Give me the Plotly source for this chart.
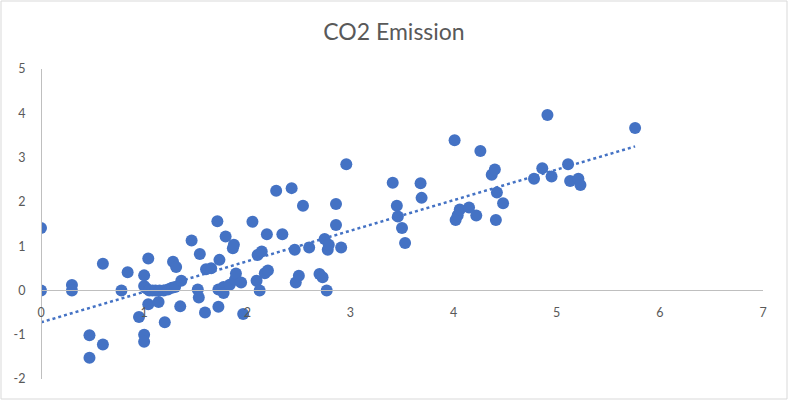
import numpy as np
import plotly.graph_objects as go

# ---- data ----
x_vals = [
    0.00, 0.00, 0.30, 0.30, 0.47, 0.47, 0.60, 0.60, 0.78, 0.84,
    0.95, 1.00, 1.00, 1.00, 1.00, 1.04, 1.04, 1.14, 1.20, 1.35,
    1.02, 1.05, 1.08, 1.11, 1.15, 1.19, 1.23, 1.27, 1.30, 1.36,
    1.28, 1.31, 1.46, 1.54, 1.52, 1.53, 1.59, 1.60, 1.65, 1.71,
    1.73, 1.72, 1.72, 1.77, 1.77, 1.79, 1.86, 1.87, 1.83, 1.88,
    1.89, 1.94, 1.96,
    2.05, 2.10, 2.14, 2.09, 2.12, 2.17, 2.20, 2.19, 2.28, 2.34,
    2.43, 2.46, 2.47, 2.50, 2.54, 2.60, 2.70, 2.73, 2.75, 2.77,
    2.78, 2.79, 2.86, 2.86, 2.91, 2.96,
    3.41, 3.45, 3.46, 3.50, 3.53, 3.68, 3.69,
    4.01, 4.02, 4.04, 4.06, 4.15, 4.22, 4.26, 4.37, 4.40, 4.41,
    4.42, 4.48, 4.78, 4.86, 4.91, 4.95, 5.11, 5.13, 5.21, 5.23,
    5.76,
]
y_vals = [
    1.41, 0.00, 0.12, 0.00, -1.01, -1.52, 0.60, -1.22, 0.00, 0.41,
    -0.60, -1.00, -1.16, 0.34, 0.10, 0.72, -0.31, -0.26, -0.72, -0.36,
    0.05, 0.00, 0.00, 0.00, 0.00, 0.00, 0.02, 0.06, 0.08, 0.22,
    0.65, 0.53, 1.13, 0.82, 0.02, -0.16, -0.50, 0.48, 0.50, 1.56,
    0.69, 0.02, -0.37, 0.08, -0.06, 1.22, 0.95, 1.03, 0.13, 0.24,
    0.38, 0.18, -0.53,
    1.55, 0.80, 0.88, 0.22, 0.00, 0.39, 0.45, 1.27, 2.25, 1.27,
    2.31, 0.92, 0.18, 0.33, 1.91, 0.97, 0.37, 0.30, 1.16, 0.00,
    0.92, 1.03, 1.95, 1.48, 0.97, 2.85,
    2.43, 1.91, 1.67, 1.41, 1.07, 2.42, 2.09,
    3.39, 1.59, 1.70, 1.83, 1.87, 1.69, 3.15, 2.61, 2.73, 1.59,
    2.21, 1.97, 2.52, 2.76, 3.96, 2.57, 2.85, 2.47, 2.52, 2.38,
    3.67,
]
x_ticks = [0, 1, 2, 3, 4, 5, 6, 7]
y_ticks = [-2, -1, 0, 1, 2, 3, 4, 5]
title_text = "CO2 Emission"

# linear trendline (least squares, as Excel does)
slope, intercept = np.polyfit(x_vals, y_vals, 1)
trend_x = [min(x_vals), max(x_vals)]
trend_y = [intercept + slope * v for v in trend_x]

BLUE = "#4472C4"
GREY_TXT = "#595959"
AXIS = "#BFBFBF"

fig = go.Figure()
fig.add_trace(go.Scatter(
    x=x_vals, y=y_vals, mode="markers",
    marker=dict(size=12, color=BLUE, line=dict(width=0)),
    showlegend=False, hoverinfo="skip",
))
fig.add_trace(go.Scatter(
    x=trend_x, y=trend_y, mode="lines",
    line=dict(color=BLUE, width=2.5, dash="3px,3px"),
    showlegend=False, hoverinfo="skip",
))

L, R, T, B = 41, 25, 69, 22
W, H = 788, 401
pw, ph = W - L - R, H - T - B

fig.update_layout(
    width=W, height=H,
    margin=dict(l=L, r=R, t=T, b=B, autoexpand=False),
    paper_bgcolor="white", plot_bgcolor="white",
    font=dict(family="Lato, Open Sans, sans-serif", color=GREY_TXT, size=12),
    title=dict(text=title_text, x=0.5, xref="container", xanchor="center",
               y=1 - 32 / H, yref="container", yanchor="middle",
               font=dict(size=23, color=GREY_TXT, family="Lato, Open Sans, sans-serif")),
    xaxis=dict(range=[0, 7], tickvals=x_ticks, ticktext=[str(v) for v in x_ticks],
               showgrid=False, zeroline=False, showline=True, linecolor=AXIS, linewidth=1,
               anchor="free", position=2 / 7,
               ticks="outside", ticklen=11, tickcolor="rgba(0,0,0,0)",
               tickfont=dict(size=12.5, color=GREY_TXT), automargin=False),
    yaxis=dict(range=[-2, 5], tickvals=y_ticks, ticktext=[str(v) for v in y_ticks],
               domain=[0, 1],
               showgrid=False, zeroline=False, showline=True, linecolor=AXIS, linewidth=1,
               anchor="free", position=0,
               ticks="outside", ticklen=13, tickcolor="rgba(0,0,0,0)",
               tickfont=dict(size=12.5, color=GREY_TXT), automargin=False),
    shapes=[dict(type="rect", xref="paper", yref="paper",
                 x0=(1 - L) / pw, x1=(W - 1 - L) / pw,
                 y0=(H - B - (H - 2)) / ph, y1=(H - B - 1) / ph,
                 line=dict(color="#D9D9D9", width=1), fillcolor="rgba(0,0,0,0)",
                 layer="below")],
)

fig.write_html("out.html",
               config={"displayModeBar": False, "staticPlot": True},
               post_script="document.body.style.margin='0';document.body.style.overflow='hidden';")
